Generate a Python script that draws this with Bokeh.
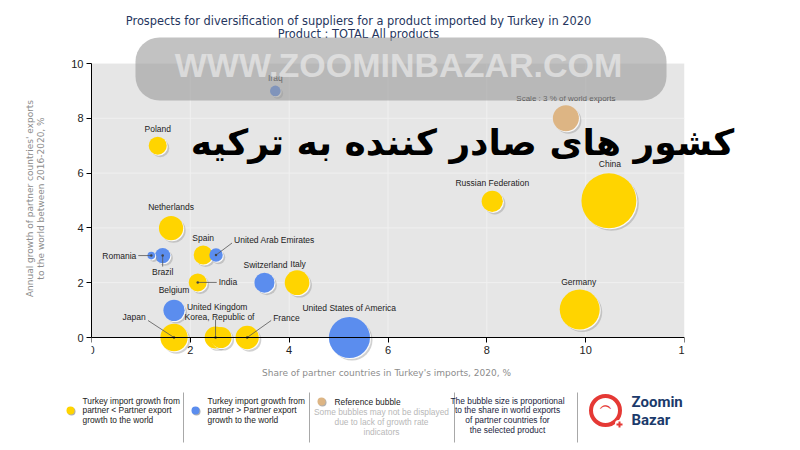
import math
from bokeh.plotting import figure
from bokeh.models import ColumnDataSource, Label, BoxAnnotation, FixedTicker, Range1d
from bokeh.embed import file_html
from bokeh.resources import INLINE
from bokeh.core.properties import value

# ---------------- data ----------------
countries = ["Iraq", "Poland", "China", "Russian Federation", "Germany", "Netherlands",
             "Romania", "Brazil", "Spain", "United Arab Emirates", "India", "Switzerland",
             "Italy", "Belgium", "Japan", "Korea, Republic of", "United Kingdom", "France",
             "United States of America"]
import_share = [3.72, 1.34, 10.47, 8.11, 9.88, 1.61, 1.21, 1.44, 2.26, 2.52, 2.15, 3.50,
                4.16, 1.67, 1.67, 2.51, 2.62, 3.15, 5.22]
export_growth = [9.0, 7.0, 4.99, 4.97, 1.02, 3.99, 2.99, 2.99, 3.01, 3.01, 2.01, 2.0,
                 2.0, 0.99, 0.0, 0.0, 0.0, 0.0, 0.0]
world_share = [0.5, 1.44, 13.4, 2.0, 7.1, 2.6, 0.26, 1.05, 1.6, 0.8, 1.44, 1.78,
               2.7, 2.0, 3.3, 2.1, 2.0, 2.4, 7.5]
group = ["higher", "lower", "lower", "lower", "lower", "lower", "higher", "higher", "lower",
         "higher", "lower", "higher", "lower", "higher", "lower", "lower", "lower", "lower",
         "higher"]

reference_x, reference_y, reference_share = 9.6, 8.0, 3.0
x_ticks = [0, 2, 4, 6, 8, 10, 12]
y_ticks = [0, 2, 4, 6, 8, 10]

# label placement (pixels right / down from bubble centre), alignment, leader end
label_layout = {
    "Iraq": (0, -13, "center", None),
    "Poland": (0, -17, "center", None),
    "China": (1, -37, "center", None),
    "Russian Federation": (0, -18, "center", None),
    "Germany": (-1, -28, "center", None),
    "Netherlands": (0, -21, "center", None),
    "Romania": (-15, 0, "right", (-13, 0)),
    "Brazil": (0, 16, "center", (0, 11)),
    "Spain": (0, -17, "center", None),
    "United Arab Emirates": (18, -15, "left", (16, -12)),
    "India": (21, 0, "left", (19, 0)),
    "Switzerland": (1, -18, "center", None),
    "Italy": (1, -19, "center", None),
    "Belgium": (0, -20, "center", None),
    "Japan": (-40, -21, "center", (-26, -17)),
    "Korea, Republic of": (-31, -21, "left", (0, -18)),
    "United Kingdom": (-34, -31, "left", None),
    "France": (26, -20, "left", (24, -17)),
    "United States of America": (0, -30, "center", None),
}

YELLOW = "#FFD400"
BLUE = "#5B8DEE"
TAN = "#DDB584"

# ---------------- layout ----------------
W, H = 800, 450
FL, FR, FT = 91, 684, 63      # frame left/right/top (canvas px)
ZERO_Y = 337                  # canvas px of y = 0
FB = 366                      # frame bottom (lets bubbles hang below the axis)
PX_X = (FR - FL) / (x_ticks[-1] - x_ticks[0])
PX_Y = (ZERO_Y - FT) / (y_ticks[-1] - y_ticks[0])
Y_MIN = -(FB - ZERO_Y) / PX_Y
R_REF = 13.0

p = figure(width=W, height=H, x_range=Range1d(0, 12), y_range=Range1d(Y_MIN, 10),
           output_backend="svg", toolbar_location=None,
           min_border_left=FL, min_border_right=W - FR, min_border_top=FT,
           min_border_bottom=H - FB, background_fill_color="white",
           border_fill_color="white", outline_line_color=None)
p.xgrid.visible = False
p.ygrid.visible = False

for ax in (p.xaxis, p.yaxis):
    ax.axis_line_color = "black"
    ax.major_tick_line_color = "black"
    ax.major_tick_out = 5
    ax.major_tick_in = 0
    ax.minor_tick_line_color = None
    ax.major_label_text_font = "Liberation Sans"
    ax.major_label_text_font_size = "11px"
    ax.major_label_text_color = "#222222"
    ax.major_label_standoff = 3
p.xaxis.ticker = FixedTicker(ticks=x_ticks)
p.yaxis.ticker = FixedTicker(ticks=y_ticks)
p.xaxis.fixed_location = 0
p.yaxis.bounds = (0, 10)

# plot area background and grid
p.add_layout(BoxAnnotation(left=0, right=12, bottom=0, top=10, fill_color="#e6e6e6",
                           fill_alpha=1, line_color=None, level="underlay"))
p.segment(x0=x_ticks[1:-1], y0=[0] * 5, x1=x_ticks[1:-1], y1=[10] * 5,
          line_color="#f0f0f0", line_width=1)
p.segment(x0=[0] * 5, y0=y_ticks[1:], x1=[12] * 5, y1=y_ticks[1:],
          line_color="#f0f0f0", line_width=1)

# bubbles
xs = import_share + [reference_x]
ys = export_growth + [reference_y]
sizes = [2 * R_REF * math.sqrt(s / reference_share) for s in world_share + [reference_share]]
cols = [YELLOW if g == "lower" else BLUE for g in group] + [TAN]
src = dict(
    x=xs, y=ys, size=sizes, color=cols,
    xs2=[v + 2.5 / PX_X for v in xs], ys2=[v - 2.5 / PX_Y for v in ys],
    xs1=[v + 1.0 / PX_X for v in xs], ys1=[v - 1.0 / PX_Y for v in ys],
)
order = sorted(range(len(xs)), key=lambda i: -sizes[i])
for i in order:
    sub = ColumnDataSource({k: [v[i]] for k, v in src.items()})
    r1 = p.scatter("xs2", "ys2", size="size", source=sub, fill_color="#9a9a9a",
                   fill_alpha=0.45, line_color=None)
    r2 = p.scatter("xs1", "ys1", size="size", source=sub, fill_color="white",
                   fill_alpha=0.9, line_color=None)
    r3 = p.scatter("x", "y", size="size", source=sub, fill_color="color",
                   line_color=None)
    for r in (r1, r2, r3):
        r.level = "guide"

# leader lines
lx0, ly0, lx1, ly1 = [], [], [], []
for c, xv, yv in zip(countries, import_share, export_growth):
    lead = label_layout[c][3]
    if lead is not None:
        lx0.append(xv)
        ly0.append(yv)
        lx1.append(xv + lead[0] / PX_X)
        ly1.append(yv - lead[1] / PX_Y)
rl = p.segment(x0=lx0, y0=ly0, x1=lx1, y1=ly1, line_color="#555555", line_width=0.8)
rd = p.scatter(x=lx0, y=ly0, size=2.5, fill_color="#444444", line_color=None)
rl.level = "guide"
rd.level = "guide"

# country labels
for align in ("center", "left", "right"):
    d = dict(x=[], y=[], t=[], ox=[], oy=[])
    for c, xv, yv in zip(countries, import_share, export_growth):
        ox, oy, al, _ = label_layout[c]
        if al == align:
            d["x"].append(xv); d["y"].append(yv); d["t"].append(c)
            d["ox"].append(ox); d["oy"].append(oy)
    rt = p.text(x="x", y="y", text="t", x_offset="ox", y_offset="oy",
                source=ColumnDataSource(d), text_align=align, text_baseline="middle",
                text_font=value("Liberation Sans"), text_font_size="8.5px",
                text_color="#222222")
    rt.level = "guide"
rs = p.text(x=[reference_x], y=[reference_y], text=["Scale : 3 % of world exports"],
            x_offset=0, y_offset=-20, text_align="center", text_baseline="middle",
            text_font=value("Liberation Sans"), text_font_size="8px", text_color="#222222")
rs.level = "guide"

# ---------------- overlay figure for page texts (page pixel coordinates) ----------------
o = figure(width=W, height=H, x_range=Range1d(0, W), y_range=Range1d(H, 0),
           output_backend="svg", toolbar_location=None, min_border=0,
           x_axis_location=None, y_axis_location=None,
           background_fill_color=None, border_fill_color=None, outline_line_color=None)
o.grid.visible = False
o.styles = {"position": "absolute", "top": "0px", "left": "0px"}


def lab(px, py, text, size="8.4px", color="#222222", align="left", font="Liberation Sans",
        style="normal", angle=0.0, alpha=1.0):
    o.add_layout(Label(x=px, y=py, text=text, text_align=align,
                       text_baseline="middle", text_font=font, text_font_size=size,
                       text_color=color, text_font_style=style, angle=angle,
                       text_alpha=alpha))


# titles
lab(358, 20, "Prospects for diversification of suppliers for a product imported by Turkey in 2020",
    size="11.4px", color="#26365e", align="center", font="DejaVu Sans")
lab(358, 33, "Product : TOTAL All products", size="11.4px", color="#26365e", align="center",
    font="DejaVu Sans")

# axis titles
lab(386, 372, "Share of partner countries in Turkey's imports, 2020, %", size="9px",
    color="#8c8c8c", align="center", font="DejaVu Sans")
lab(29, 198, "Annual growth of partner countries' exports", size="9px", color="#8c8c8c",
    align="center", font="DejaVu Sans", angle=math.pi / 2)
lab(40, 198, "to the world between 2016-2020, %", size="9px", color="#8c8c8c",
    align="center", font="DejaVu Sans", angle=math.pi / 2)

# legend
sep_x = [183, 309, 454, 577]
o.segment(x0=sep_x, y0=[392] * 4, x1=sep_x, y1=[442] * 4, line_color="#a8a8a8", line_width=1)
legend_x = [70, 195, 321]
legend_y = [410, 410, 401]
o.scatter(x=[v + 1 for v in legend_x], y=[v + 1 for v in legend_y], size=8,
          fill_color="#b0b0b0", line_color=None)
o.scatter(x=legend_x, y=legend_y, size=8, fill_color=[YELLOW, BLUE, TAN], line_color=None)
for i, t in enumerate(["Turkey import growth from", "partner < Partner export", "growth to the world"]):
    lab(82, 400 + 9.7 * i, t)
for i, t in enumerate(["Turkey import growth from", "partner > Partner export", "growth to the world"]):
    lab(207, 400 + 9.7 * i, t)
lab(334, 401, "Reference bubble")
for i, t in enumerate(["Some bubbles may not be displayed", "due to lack of growth rate", "indicators"]):
    lab(381, 411 + 10 * i, t, color="#b8b8b8", align="center")
for i, t in enumerate(["The bubble size is proportional", "to the share in world exports",
                       "of partner countries for", "the selected product"]):
    lab(507, 400 + 9.8 * i, t, align="center", color="#1a2440")

# logo
o.scatter(x=[605], y=[410], size=29, fill_color=None, line_color="#e53935", line_width=4)
o.scatter(x=[618], y=[423], size=7, fill_color="white", line_color=None)
o.scatter(x=[619], y=[424], marker="cross", size=6, line_color="#e53935", line_width=2)
lab(605, 404, "︵", size="12px", color="#e53935", align="center", font="DejaVu Sans", style="bold")
lab(631, 401, "Zoomin", size="15px", color="#1b3a6b", font="Roboto", style="bold")
lab(631, 419, "Bazar", size="15px", color="#1b3a6b", font="Roboto", style="bold")

# watermark
o.add_layout(BoxAnnotation(left=135, right=666, top=37, bottom=100, fill_color="#999999",
                           fill_alpha=0.6, line_color=None, border_radius=24))
lab(398, 64, "WWW.ZOOMINBAZAR.COM", size="34px", color="#e8e8e8", align="center",
    font="Liberation Sans", style="bold", alpha=0.72)
lab(462, 142, "کشور های صادر کننده به ترکیه", size="36px", color="black", align="center",
    font="DejaVu Sans", style="bold")

open("out.html", "w").write(file_html([p, o], INLINE))
